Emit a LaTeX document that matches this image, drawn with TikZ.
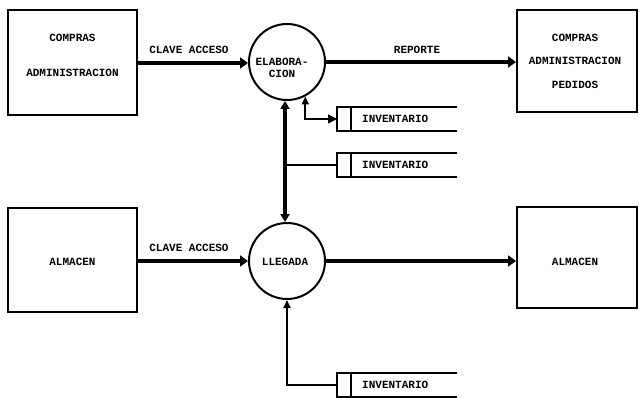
\documentclass[tikz,border=0pt]{standalone}
\usepackage{fontspec}
\setmainfont{Liberation Mono}
\usetikzlibrary{arrows.meta}
\begin{document}
\begin{tikzpicture}[x=1pt,y=-1pt,
  lbl/.style={font=\fontsize{11}{11}\selectfont\bfseries, inner sep=0pt},
  boxn/.style={draw, line width=2pt, rectangle, inner sep=0pt},
  proc/.style={draw, line width=2pt, circle, minimum size=76pt, inner sep=0pt},
  flow/.style={line width=4.8pt, -{Triangle[length=8pt,width=11pt]}},
  flowtwo/.style={line width=3.4pt, {Triangle[length=8pt,width=9pt]}-{Triangle[length=8pt,width=9pt]}},
  thin/.style={line width=1.7pt},
  thinarrow/.style={line width=1.7pt, -{Triangle[length=8pt,width=7pt]}},
  thinboth/.style={line width=1.7pt, {Triangle[length=8pt,width=7pt]}-{Triangle[length=9pt,width=9pt]}},
  storeline/.style={line width=1.8pt}]
\useasboundingbox[fill=white] (0,0) rectangle (639,398);

% external entities
\node[boxn, minimum width=129pt, minimum height=105pt] (b1) at (72.5,62.5) {};
\node[lbl] (b1a) at (72.5,38) {COMPRAS};
\node[lbl] (b1b) at (72.5,73) {ADMINISTRACION};

\node[boxn, minimum width=120pt, minimum height=102pt] (b2) at (577,61) {};
\node[lbl] (b2a) at (575,38) {COMPRAS};
\node[lbl] (b2b) at (575,61) {ADMINISTRACION};
\node[lbl] (b2c) at (575,85) {PEDIDOS};

\node[boxn, minimum width=129pt, minimum height=104pt] (b3) at (72.5,260) {};
\node[lbl] (b3a) at (72.5,262) {ALMACEN};

\node[boxn, minimum width=120pt, minimum height=101pt] (b4) at (577,257.5) {};
\node[lbl] (b4a) at (575,262) {ALMACEN};

% processes
\node[proc] (elab) at (287,62) {};
\node[lbl, align=center] (elabt) at (282,68) {ELABORA-\\[1pt]CION};
\node[proc] (lleg) at (287,261) {};
\node[lbl] (llegt) at (285,262) {LLEGADA};

% data stores
\foreach \n/\y in {s1/119, s2/165, s3/385}{
  \draw[storeline] (457,\y-12) -- (337,\y-12) -- (337,\y+12) -- (457,\y+12);
  \draw[storeline] (351,\y-12) -- (351,\y+12);
  \coordinate (\n) at (337,\y);
  \node[lbl, anchor=west] (\n t) at (362,\y) {INVENTARIO};
}

% flows
\draw[flow] (b1.east |- 0,63) -- (elab.west |- 0,63);
\node[lbl] (l1) at (189,50) {CLAVE ACCESO};
\draw[flow] (elab.east |- 0,62) -- (b2.west |- 0,62);
\node[lbl] (l2) at (417,50) {REPORTE};
\draw[flow] (b3.east |- 0,261) -- (lleg.west |- 0,261);
\node[lbl] (l3) at (189,248) {CLAVE ACCESO};
\draw[flow] (lleg.east |- 0,261) -- (b4.west |- 0,261);

\draw[flowtwo] ([xshift=-2pt]elab.south) -- ([xshift=-2pt]lleg.north);

\coordinate (e1) at (elab.-62);
\draw[thinboth] (e1) -- (e1 |- s1) -- (s1);
\coordinate (j2) at (285,165);
\draw[thin] (s2) -- (j2);
\draw[thinarrow] (s3) -- (lleg.south |- s3) -- (lleg.south);
\end{tikzpicture}
\end{document}
